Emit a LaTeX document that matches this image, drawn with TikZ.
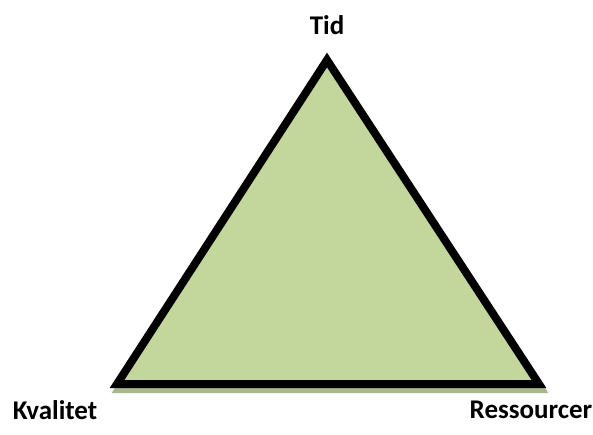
\documentclass[tikz,border=0pt]{standalone}
\usepackage{fontspec}
\setmainfont{Carlito}
\usepackage{tikz}
\definecolor{trifill}{RGB}{195,214,155}
\definecolor{trishadow}{RGB}{170,182,140}

\begin{document}
\begin{tikzpicture}[x=1pt,y=-1pt,
        label/.style={font=\fontsize{27}{31}\selectfont\bfseries}]
        \useasboundingbox (0,0) rectangle (593,434);
        \coordinate (Ctid)   at (327,60);
        \coordinate (Ckval)  at (117,384);
        \coordinate (Cres)   at (539,384);

        % shadow
        \draw[trishadow,line width=8pt,line join=miter,fill=trishadow]
              ([shift={(2,5)}]Ctid) -- ([shift={(2,5)}]Cres) -- ([shift={(2,5)}]Ckval) -- cycle;
        \draw[line width=8pt,line join=miter,fill=trifill] (Ctid) -- (Cres) -- (Ckval) -- cycle;

        \node (Ltid)  at (327,25)  [label] {Tid};
        \node (Lkval) at (55,410)  [label] {Kvalitet};
        \node (Lres)  at (531,410) [label] {Ressourcer};
    \end{tikzpicture}
\end{document}
